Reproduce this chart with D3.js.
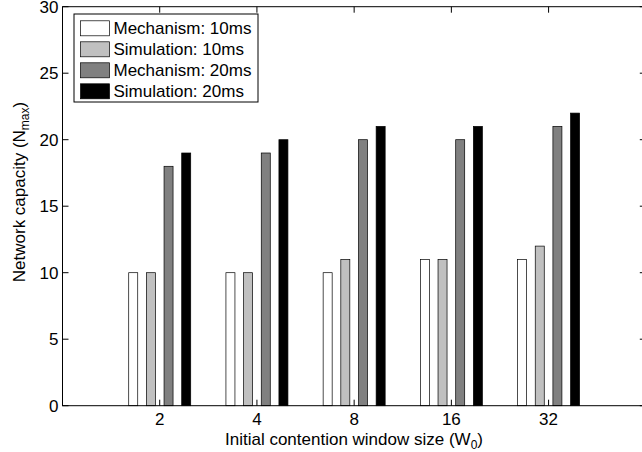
<!DOCTYPE html>
<html>
<head>
<meta charset="utf-8">
<script src="https://cdn.jsdelivr.net/npm/d3@7"></script>
<style>
  body { margin: 0; background: #fff; }
  svg { display: block; font-family: "Liberation Sans", Arial, sans-serif; }
</style>
</head>
<body>
<div id="chart"></div>
<script>
// Network capacity vs initial contention window size

var width = 642,
  height = 452;

var categories = ["2", "4", "8", "16", "32"];
var seriesNames = ["Mechanism: 10ms", "Simulation: 10ms", "Mechanism: 20ms", "Simulation: 20ms"];
var seriesColors = ["#ffffff", "#c0c0c0", "#808080", "#000000"];

var mech10 = [10, 10, 10, 11, 11];
var sim10 = [10, 10, 11, 11, 12];
var mech20 = [18, 19, 20, 20, 21];
var sim20 = [19, 20, 21, 21, 22];
var seriesValues = [mech10, sim10, mech20, sim20];

var yTicks = [0, 5, 10, 15, 20, 25, 30];

// plot box (right edge falls just outside the picture, like the original)
var plotLeft = 62.5, plotRight = 645.8, plotTop = 6.7, plotBottom = 405.7;
var fontSize = 17;

var svg = d3.select("#chart").append("svg")
  .attr("width", width)
  .attr("height", height);

// x: category index 1..5 in a 0..6 axis
var x = d3.scaleLinear().domain([0, 6]).range([plotLeft, plotRight]);
var y = d3.scaleLinear().domain([0, 30]).range([plotBottom, plotTop]);

// offsets of the four bars inside a group
var inner = d3.scaleBand()
  .domain(d3.range(seriesNames.length))
  .range([-31, 31])
  .paddingInner(0.49);

// bars
var bars_data = [];
seriesValues.forEach(function (vals, s) {
  vals.forEach(function (v, i) {
    bars_data.push({ s: s, i: i, v: v });
  });
});

svg.append("g")
  .attr("class", "bars")
  .selectAll("rect")
  .data(bars_data)
  .enter()
  .append("rect")
  .attr("x", function (d) { return x(d.i + 1) + inner(d.s); })
  .attr("y", function (d) { return y(d.v); })
  .attr("width", inner.bandwidth())
  .attr("height", function (d) { return y(0) - y(d.v); })
  .attr("fill", function (d) { return seriesColors[d.s]; })
  .attr("stroke", "#000")
  .attr("stroke-width", 0.7);

// axes box
var axisG = svg.append("g").attr("class", "axes");

axisG.append("rect")
  .attr("x", plotLeft).attr("y", plotTop)
  .attr("width", plotRight - plotLeft).attr("height", plotBottom - plotTop)
  .attr("fill", "none").attr("stroke", "#000").attr("stroke-width", 1);

// y ticks (left and right, inward)
axisG.selectAll(".ytick-l").data(yTicks).enter().append("line")
  .attr("x1", plotLeft).attr("x2", plotLeft + 6)
  .attr("y1", function (d) { return y(d); }).attr("y2", function (d) { return y(d); })
  .attr("stroke", "#000");
axisG.selectAll(".ytick-r").data(yTicks).enter().append("line")
  .attr("x1", plotRight).attr("x2", plotRight - 6)
  .attr("y1", function (d) { return y(d); }).attr("y2", function (d) { return y(d); })
  .attr("stroke", "#000");

axisG.selectAll(".ylab").data(yTicks).enter().append("text")
  .attr("x", plotLeft - 4)
  .attr("y", function (d) { return y(d); })
  .attr("dy", "0.35em")
  .attr("text-anchor", "end")
  .attr("font-size", fontSize)
  .text(function (d) { return d; });

// x ticks (bottom and top, inward)
axisG.selectAll(".xtick-b").data(categories).enter().append("line")
  .attr("x1", function (d, i) { return x(i + 1); }).attr("x2", function (d, i) { return x(i + 1); })
  .attr("y1", plotBottom).attr("y2", plotBottom - 6)
  .attr("stroke", "#000");
axisG.selectAll(".xtick-t").data(categories).enter().append("line")
  .attr("x1", function (d, i) { return x(i + 1); }).attr("x2", function (d, i) { return x(i + 1); })
  .attr("y1", plotTop).attr("y2", plotTop + 6)
  .attr("stroke", "#000");

axisG.selectAll(".xlab").data(categories).enter().append("text")
  .attr("x", function (d, i) { return x(i + 1); })
  .attr("y", 425)
  .attr("text-anchor", "middle")
  .attr("font-size", fontSize)
  .text(function (d) { return d; });

// axis titles
var xt = svg.append("text")
  .attr("x", 354).attr("y", 445)
  .attr("text-anchor", "middle")
  .attr("font-size", fontSize);
xt.append("tspan").text("Initial contention window size (W");
xt.append("tspan").attr("dy", 4).attr("font-size", 12).text("0");
xt.append("tspan").attr("dy", -4).text(")");

var yt = svg.append("text")
  .attr("transform", "translate(25,192) rotate(-90)")
  .attr("text-anchor", "middle")
  .attr("font-size", fontSize);
yt.append("tspan").text("Network capacity (N");
yt.append("tspan").attr("dy", 4).attr("font-size", 12).text("max");
yt.append("tspan").attr("dy", -4).text(")");

// legend
var legend = svg.append("g").attr("class", "legend");
legend.append("rect")
  .attr("x", 74).attr("y", 14)
  .attr("width", 184).attr("height", 88)
  .attr("fill", "#fff").attr("stroke", "#000").attr("stroke-width", 1);

var rows = legend.selectAll(".row").data(seriesNames).enter().append("g")
  .attr("transform", function (d, i) { return "translate(0," + (28.3 + i * 21) + ")"; });

rows.append("rect")
  .attr("x", 80.5).attr("y", -7.5)
  .attr("width", 29).attr("height", 15)
  .attr("fill", function (d, i) { return seriesColors[i]; })
  .attr("stroke", "#000").attr("stroke-width", 0.7);

rows.append("text")
  .attr("x", 113.5).attr("dy", "0.35em")
  .attr("font-size", fontSize)
  .text(function (d) { return d; });
</script>
</body>
</html>
